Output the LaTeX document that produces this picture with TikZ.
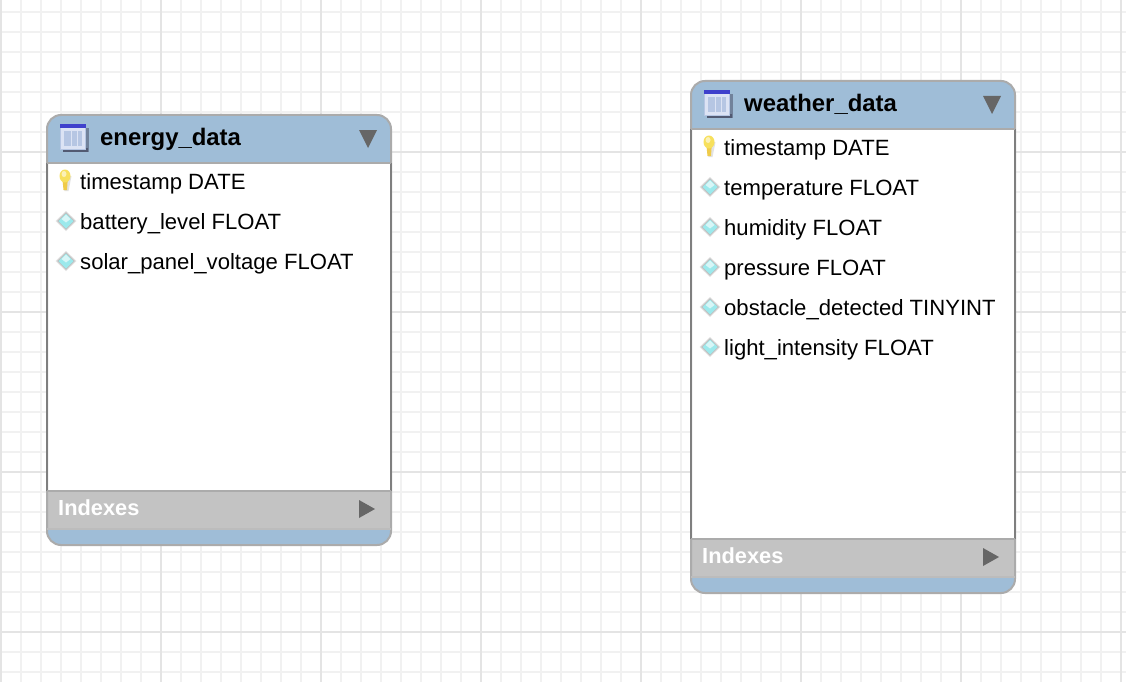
\documentclass[tikz,border=0pt]{standalone}
\usepackage{fontspec}
\setmainfont{Liberation Sans}
\definecolor{hdrblue}{HTML}{9FBDD7}
\definecolor{frame}{HTML}{ABABAB}
\definecolor{sidegray}{HTML}{7F7F7F}
\definecolor{idxgray}{HTML}{C3C3C3}
\definecolor{tri}{HTML}{666666}
\definecolor{gridminor}{HTML}{F1F1F1}
\definecolor{gridmajor}{HTML}{E4E4E4}
\definecolor{keyyellow}{HTML}{F7E05C}
\definecolor{keydark}{HTML}{EFCB4A}
\definecolor{diacyan}{HTML}{9CE9EC}
\definecolor{barblue}{HTML}{3F41CC}
\definecolor{iconpale}{HTML}{DCE3F4}
\definecolor{iconcol}{HTML}{B6C6E3}
\definecolor{iconshadow}{HTML}{525A72}
\tikzset{
  x=1pt,y=-1pt,
  coltext/.style={anchor=base west,inner sep=0pt,font=\fontsize{22.1}{24}\selectfont,text=black},
  titletext/.style={anchor=base west,inner sep=0pt,font=\fontsize{23.9}{26}\selectfont\bfseries,text=black},
  idxtext/.style={anchor=base west,inner sep=0pt,font=\fontsize{21.8}{24}\selectfont\bfseries,text=white},
  outline/.style={draw=frame,line width=2pt},
  divider/.style={draw=frame!80,line width=1.6pt},
  sideline/.style={draw=sidegray,line width=2pt},
  trishape/.style={fill=tri,draw=none},
  roundbox/.style={rounded corners=14pt},
}
\newcommand{\keyicon}[2]{%
  \fill[gray!22] (#1-3,#2-3) -- (#1+6.5,#2-3) -- (#1+3.5,#2+12) -- (#1-.5,#2+12) -- cycle;
  \fill[keydark] (#1-3,#2-4) -- (#1+3,#2-4) -- (#1+2,#2+11) -- (#1-1.5,#2+11) -- cycle;
  \fill[keyyellow] (#1,#2-3) ellipse (5.5 and 6.5);
  \fill[white!55!keyyellow] (#1-1,#2-5) ellipse (2.5 and 3);
}
\newcommand{\diaicon}[2]{%
  \fill[gray!22] (#1,#2-10) -- (#1+10.5,#2) -- (#1,#2+10) -- (#1-10.5,#2) -- cycle;
  \fill[gray!50] (#1,#2-8.8) -- (#1+9,#2) -- (#1,#2+8.8) -- (#1-9,#2) -- cycle;
  \fill[diacyan] (#1,#2-7.5) -- (#1+7.5,#2) -- (#1,#2+7.5) -- (#1-7.5,#2) -- cycle;
  \fill[white!60!diacyan] (#1,#2-6.5) -- (#1+4.5,#2-2) -- (#1,#2+1.5) -- (#1-4.5,#2-2) -- cycle;
}
\newcommand{\tblicon}[2]{%
  \fill[iconshadow!60!hdrblue] (#1+3,#2+4) rectangle (#1+29,#2+28);
  \fill[iconshadow] (#1+3,#2+24) rectangle (#1+28,#2+28);
  \fill[iconpale] (#1,#2) rectangle (#1+26,#2+26);
  \fill[barblue] (#1,#2) rectangle (#1+26,#2+4);
  \fill[iconcol] (#1+4,#2+7) rectangle (#1+22,#2+22);
  \fill[iconpale] (#1+10.5,#2+7) rectangle (#1+12,#2+22);
  \fill[iconpale] (#1+16.5,#2+7) rectangle (#1+18,#2+22);
  \draw[iconcol,line width=.8pt] (#1+.4,#2+4) -- (#1+.4,#2+25.6) -- (#1+25.6,#2+25.6) -- (#1+25.6,#2+4);
}
\begin{document}
\begin{tikzpicture}
\useasboundingbox (0,0) rectangle (1126,682);
\fill[white] (0,0) rectangle (1126,682);
% grid
\foreach \i in {0,...,56} {\draw[gridminor,line width=2pt] ({1+20*\i},0) -- ({1+20*\i},682);}
\foreach \j in {0,...,33} {\draw[gridminor,line width=2pt] (0,{12+20*\j}) -- (1126,{12+20*\j});}
\foreach \i in {0,...,7} {\draw[gridmajor,line width=2pt] ({1+160*\i},0) -- ({1+160*\i},682);}
\foreach \j in {0,...,3} {\draw[gridmajor,line width=2pt] (0,{152+160*\j}) -- (1126,{152+160*\j});}

% energy_data
\fill[hdrblue,roundbox] (47,115) rectangle (391,545);
\fill[white] (47,163) rectangle (391,491);
\fill[idxgray] (47,491) rectangle (391,529);
\draw[outline,roundbox] (47,115) rectangle (391,545);
\draw[sideline] (47,163) -- (47,491) (391,163) -- (391,491);
\draw[outline] (47,163) -- (391,163);
\draw[outline] (47,491) -- (391,491);
\draw[divider] (47,529) -- (391,529);
\tblicon{60}{124}
\node[titletext] (t1) at (100,146) {energy\_data};
\fill[trishape] (359,130) -- (377,130) -- (368,148) -- cycle;
\keyicon{65}{179}
\node[coltext] (e1) at (80,189) {timestamp DATE};
\diaicon{66}{221}
\node[coltext] (e2) at (80,229) {battery\_level FLOAT};
\diaicon{66}{261}
\node[coltext] (e3) at (80,269) {solar\_panel\_voltage FLOAT};
\node[idxtext] (i1) at (58,515) {Indexes};
\fill[trishape] (359,500) -- (375,509) -- (359,518) -- cycle;

% weather_data
\fill[hdrblue,roundbox] (691,81) rectangle (1015,593);
\fill[white] (691,129) rectangle (1015,539);
\fill[idxgray] (691,539) rectangle (1015,577);
\draw[outline,roundbox] (691,81) rectangle (1015,593);
\draw[sideline] (691,129) -- (691,539) (1015,129) -- (1015,539);
\draw[outline] (691,129) -- (1015,129);
\draw[outline] (691,539) -- (1015,539);
\draw[divider] (691,577) -- (1015,577);
\tblicon{704}{90}
\node[titletext] (t2) at (744,112) {weather\_data};
\fill[trishape] (983,96) -- (1001,96) -- (992,114) -- cycle;
\keyicon{709}{145}
\node[coltext] (w1) at (724,155) {timestamp DATE};
\diaicon{710}{187}
\node[coltext] (w2) at (724,195) {temperature FLOAT};
\diaicon{710}{227}
\node[coltext] (w3) at (724,235) {humidity FLOAT};
\diaicon{710}{267}
\node[coltext] (w4) at (724,275) {pressure FLOAT};
\diaicon{710}{307}
\node[coltext] (w5) at (724,315) {obstacle\_detected TINYINT};
\diaicon{710}{347}
\node[coltext] (w6) at (724,355) {light\_intensity FLOAT};
\node[idxtext] (i2) at (702,563) {Indexes};
\fill[trishape] (983,548) -- (999,557) -- (983,566) -- cycle;
\end{tikzpicture}
\end{document}
